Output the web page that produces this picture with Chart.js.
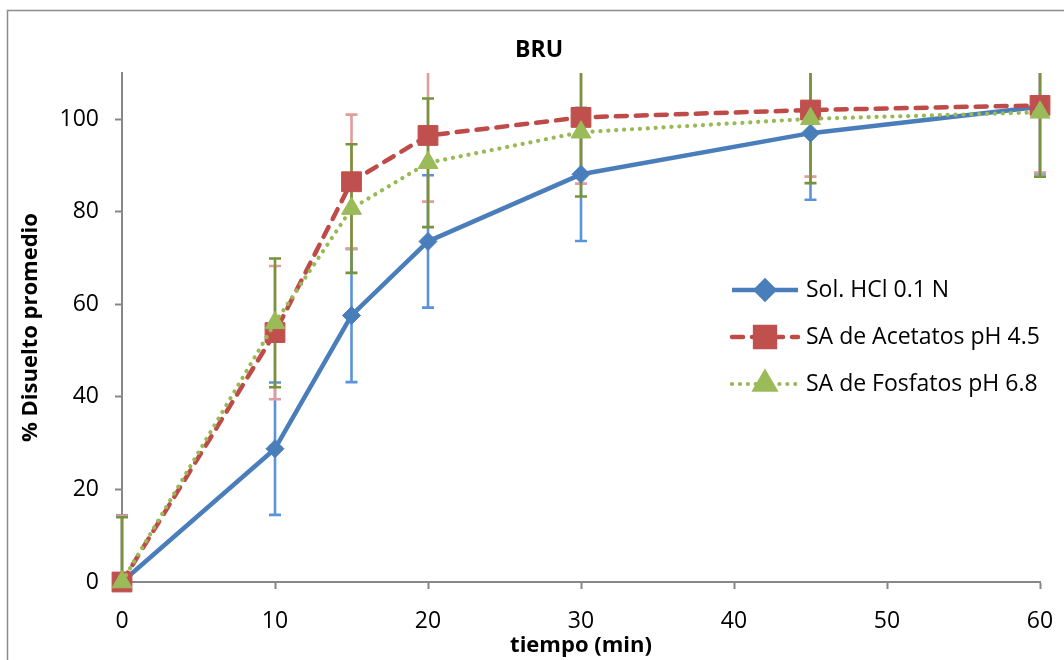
<!DOCTYPE html>
<html>
<head>
<meta charset="utf-8">
<script src="https://cdn.jsdelivr.net/npm/chart.js@4.4.1/dist/chart.umd.min.js"></script>
<style>
  html, body { margin: 0; padding: 0; background: #fff; }
  #wrap { width: 1064px; height: 660px; }
</style>
</head>
<body>
<div id="wrap"><canvas id="chart-1"></canvas></div>
<script>
// tiempo (min)
const tiempos = [0, 10, 15, 20, 30, 45, 60];
// % disuelto promedio + desviación
const hcl = [0, 28.8, 57.6, 73.6, 88.1, 97.0, 102.7];
const hclErr = [14.4, 14.3, 14.4, 14.3, 14.4, 14.4, 14.4];
const acetatos = [0, 53.9, 86.5, 96.5, 100.4, 102.0, 103.0];
const acetatosErr = [14.3, 14.4, 14.5, 14.3, 14.3, 14.4, 14.5];
const fosfatos = [0, 56.0, 80.7, 90.6, 97.2, 100.1, 101.5];
const fosfatosErr = [14.0, 13.9, 13.9, 13.9, 13.9, 13.9, 13.9];
const seriesNames = ["Sol. HCl 0.1 N", "SA de Acetatos pH 4.5", "SA de Fosfatos pH 6.8"];
const chartTitle = "BRU";

const FONT = "'Open Sans'";
const AXIS_GRAY = "#878787";

function pts(values) {
  return tiempos.map((t, i) => ({ x: t, y: values[i] }));
}

const errorBars = {
  id: "errorBars",
  beforeDatasetsDraw(chart) {
    const { ctx, chartArea, scales } = chart;
    ctx.save();
    ctx.beginPath();
    ctx.rect(chartArea.left - 12, chartArea.top, chartArea.right - chartArea.left + 24, chartArea.bottom - chartArea.top);
    ctx.clip();
    chart.data.datasets.forEach((ds) => {
      ctx.strokeStyle = ds.errorColor;
      ctx.lineWidth = 2.6;
      ds.data.forEach((p, i) => {
        const x = scales.x.getPixelForValue(p.x);
        const lo = scales.y.getPixelForValue(p.y - ds.errors[i]);
        const hi = scales.y.getPixelForValue(p.y + ds.errors[i]);
        ctx.beginPath();
        ctx.moveTo(x, lo);
        ctx.lineTo(x, hi);
        ctx.moveTo(x - 6, lo);
        ctx.lineTo(x + 6, lo);
        ctx.moveTo(x - 6, hi);
        ctx.lineTo(x + 6, hi);
        ctx.stroke();
      });
    });
    ctx.restore();
  },
};

// outer chart border + title (Excel centres it over the whole box)
const frame = {
  id: "frame",
  beforeDraw(chart) {
    const { ctx } = chart;
    ctx.save();
    ctx.fillStyle = "#fff";
    ctx.fillRect(0, 0, chart.width, chart.height);
    ctx.strokeStyle = "#8c8c8c";
    ctx.lineWidth = 1.5;
    ctx.strokeRect(7.5, 10.5, 1200, 800);
    ctx.fillStyle = "#000";
    ctx.font = `bold 23px ${FONT}`;
    ctx.textAlign = "center";
    ctx.textBaseline = "middle";
    ctx.fillText(chartTitle, 539, 50);
    ctx.restore();
  },
};

const lineLegend = {
  id: "lineLegend",
  afterDraw(chart) {
    const { ctx } = chart;
    chart.data.datasets.forEach((ds, i) => {
      const y = 290 + i * 47;
      ctx.save();
      ctx.strokeStyle = ds.borderColor;
      ctx.lineWidth = ds.borderWidth;
      ctx.lineCap = ds.borderCapStyle || "butt";
      ctx.setLineDash(ds.borderDash || []);
      ctx.beginPath();
      ctx.moveTo(732, y);
      ctx.lineTo(798, y);
      ctx.stroke();
      ctx.setLineDash([]);
      ctx.fillStyle = ds.pointBackgroundColor;
      ctx.strokeStyle = ds.pointBorderColor;
      Chart.helpers.drawPoint(ctx, { pointStyle: ds.pointStyle, radius: ds.pointRadius, borderWidth: 1, rotation: 0 }, 765, y);
      ctx.fillStyle = "#000";
      ctx.font = `23px ${FONT}`;
      ctx.textBaseline = "middle";
      ctx.fillText(ds.label, 806, y);
      ctx.restore();
    });
  },
};

const ctx_1 = document.getElementById("chart-1");
new Chart(ctx_1, {
  type: "line",
  data: {
    datasets: [
      {
        label: seriesNames[0],
        data: pts(hcl),
        errors: hclErr,
        errorColor: "#5a93da",
        borderColor: "#4a7ebb",
        borderWidth: 4.5,
        borderJoinStyle: "round",
        pointStyle: "rectRot",
        pointRadius: 9,
        pointBackgroundColor: "#4a7ebb",
        pointBorderColor: "#4a7ebb",
        pointBorderWidth: 1,
        order: 3,
        clip: false,
      },
      {
        label: seriesNames[1],
        data: pts(acetatos),
        errors: acetatosErr,
        errorColor: "#e29d9b",
        borderColor: "#be4b48",
        borderWidth: 4.5,
        borderDash: [11, 9],
        borderCapStyle: "round",
        pointStyle: "rect",
        pointRadius: 14,
        pointBackgroundColor: "#c0504d",
        pointBorderColor: "#c0504d",
        pointBorderWidth: 1,
        order: 2,
        clip: false,
      },
      {
        label: seriesNames[2],
        data: pts(fosfatos),
        errors: fosfatosErr,
        errorColor: "#77933c",
        borderColor: "#98b954",
        borderWidth: 4.2,
        borderDash: [0.1, 7.8],
        borderCapStyle: "round",
        pointStyle: "triangle",
        pointRadius: 11.5,
        pointBackgroundColor: "#9bbb59",
        pointBorderColor: "#9bbb59",
        pointBorderWidth: 1,
        order: 1,
        clip: false,
      },
    ],
  },
  options: {
    responsive: true,
    maintainAspectRatio: false,
    animation: false,
    layout: { padding: { left: 0, right: 24, top: 73, bottom: 0 } },
    scales: {
      x: {
        type: "linear",
        min: 0,
        max: 60,
        afterFit: (scale) => {
          scale.height = 78;
          scale.paddingLeft = 0;
          scale.paddingRight = 0;
        },
        ticks: { stepSize: 10, color: "#000", padding: 19, font: { family: FONT, size: 23 } },
        grid: { drawOnChartArea: false, tickLength: 7, tickColor: AXIS_GRAY, tickWidth: 2 },
        border: { color: AXIS_GRAY, width: 2 },
        title: {
          display: true,
          text: "tiempo (min)",
          color: "#000",
          font: { family: FONT, size: 22, weight: "bold" },
          padding: { top: 0, bottom: 1 },
        },
      },
      y: {
        min: 0,
        max: 110,
        afterFit: (scale) => { scale.width = 122; },
        ticks: { stepSize: 20, includeBounds: false, color: "#000", padding: 16, font: { family: FONT, size: 23 } },
        grid: { drawOnChartArea: false, tickLength: 7, tickColor: AXIS_GRAY, tickWidth: 2 },
        border: { color: AXIS_GRAY, width: 2 },
        title: {
          display: true,
          text: "% Disuelto promedio",
          color: "#000",
          font: { family: FONT, size: 22, weight: "bold" },
          padding: { top: 18, bottom: 0 },
        },
      },
    },
    plugins: {
      legend: { display: false },
      tooltip: { enabled: false },
      title: { display: false },
    },
  },
  plugins: [frame, errorBars, lineLegend],
});
</script>
</body>
</html>
